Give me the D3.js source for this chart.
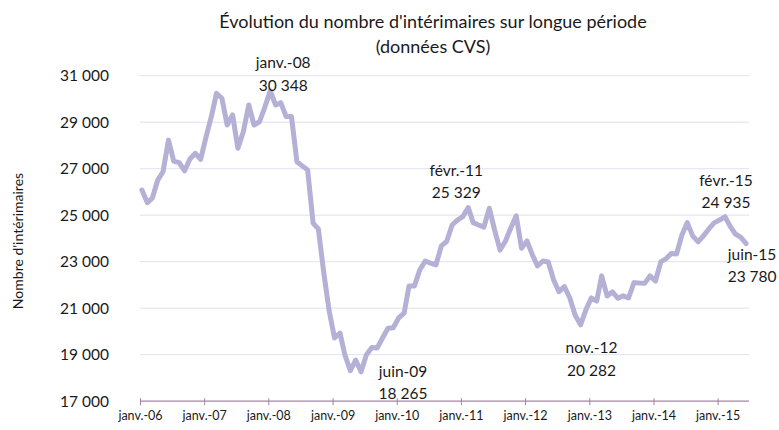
<!DOCTYPE html>
<html lang="fr">
<head>
<meta charset="UTF-8">
<title>Évolution du nombre d'intérimaires</title>
<script src="https://cdn.jsdelivr.net/npm/d3@7"></script>
<style>
  body { margin: 0; background: #fff; }
  svg text { font-family: Lato, "Open Sans", sans-serif; fill: #1a1a1a; }
</style>
</head>
<body>
<div id="chart"></div>
<script>
// monthly series, janv.-06 .. juin-15 (seasonally adjusted)
const startMonth = new Date(2006, 0, 12);
const values = [
  26080, 25540, 25730, 26510, 26870, 28230, 27330, 27260, 26910, 27420, 27660, 27400,
  28370, 29270, 30240, 30030, 28880, 29310, 27880, 28590, 29740, 28880, 29020, 29640,
  30348, 29740, 29840, 29240, 29240, 27300, 27120, 26940, 24660, 24410, 22510, 20900,
  19720, 19930, 18990, 18310, 18770, 18265, 18990, 19310, 19290, 19720, 20140, 20160,
  20580, 20790, 21960, 21960, 22640, 23030, 22940, 22860, 23680, 23870, 24580, 24790,
  24940, 25329, 24680, 24580, 24490, 25300, 24360, 23500, 23890, 24450, 24970, 23580,
  23890, 23290, 22820, 23030, 22990, 22210, 21710, 21930, 21440, 20710, 20282, 20920,
  21440, 21310, 22390, 21530, 21700, 21430, 21530, 21440, 22100, 22080, 22070, 22390,
  22170, 23000, 23120, 23350, 23330, 24150, 24680, 24110, 23850, 24110, 24410, 24670,
  24790, 24935, 24540, 24190, 24060, 23780
];
const yTicks = [17000, 19000, 21000, 23000, 25000, 27000, 29000, 31000];
const tickYears = [2006, 2007, 2008, 2009, 2010, 2011, 2012, 2013, 2014, 2015];
// highlighted points: month index in the series
const callouts = [24, 41, 61, 82, 109, 113];
const calloutOffsets = {
  24: [13, -23, 0],
  41: [42, 5, 27],
  61: [-12, -32, -10],
  82: [11, 28, 51],
  109: [1, -31, -9],
  113: [6, 16, 38]
};

const width = 779, height = 430;

const fr = d3.timeFormatLocale({
  dateTime: "%A %e %B %Y à %X", date: "%d/%m/%Y", time: "%H:%M:%S",
  periods: ["AM", "PM"],
  days: ["dimanche", "lundi", "mardi", "mercredi", "jeudi", "vendredi", "samedi"],
  shortDays: ["dim.", "lun.", "mar.", "mer.", "jeu.", "ven.", "sam."],
  months: ["janvier", "février", "mars", "avril", "mai", "juin", "juillet", "août", "septembre", "octobre", "novembre", "décembre"],
  shortMonths: ["janv.", "févr.", "mars", "avr.", "mai", "juin", "juil.", "août", "sept.", "oct.", "nov.", "déc."]
});
const fmtMonth = fr.format("%b-%y");
const fmtNum = d3.formatLocale({ decimal: ",", thousands: " ", grouping: [3], currency: ["", " €"] }).format(",d");

const data = values.map((v, i) => ({ date: d3.timeMonth.offset(startMonth, i), value: v }));

const x = d3.scaleTime()
  .domain([new Date(2006, 0, 1), new Date(2015, 5, 20)])
  .range([140, 747.5]);
const y = d3.scaleLinear()
  .domain([17000, 31000])
  .range([401.2, 75.7]);

const svg = d3.select("#chart").append("svg")
  .attr("width", width)
  .attr("height", height);

// gridlines
svg.append("g")
  .selectAll("line")
  .data(yTicks.slice(1))
  .join("line")
  .attr("x1", x.range()[0]).attr("x2", 749)
  .attr("y1", d => y(d)).attr("y2", d => y(d))
  .attr("stroke", "#e3e1ef")
  .attr("stroke-width", 1);

// y labels
svg.append("g")
  .selectAll("text")
  .data(yTicks)
  .join("text")
  .attr("x", 109)
  .attr("y", d => y(d))
  .attr("dy", "0.36em")
  .attr("text-anchor", "end")
  .style("font-size", "15.5px")
  .text(d => fmtNum(d));

// x axis
const xAxis = d3.axisBottom(x)
  .tickValues(tickYears.map(yr => new Date(yr, 0, 1)))
  .tickFormat(fmtMonth)
  .tickSizeInner(4)
  .tickSizeOuter(0)
  .tickPadding(6);

const gx = svg.append("g")
  .attr("transform", `translate(0,${y(17000)})`)
  .call(xAxis);
gx.select(".domain").attr("stroke", "#a484a4").attr("stroke-width", 1.3)
  .attr("d", `M${x.range()[0]},0H749`);
gx.selectAll(".tick line").attr("stroke", "#a484a4").attr("y1", -3).attr("y2", 4);
gx.selectAll(".tick text")
  .style("font-family", "Lato, sans-serif")
  .style("font-size", "12.5px")
  .attr("fill", "#1a1a1a");

// line
const line = d3.line()
  .x(d => x(d.date))
  .y(d => y(d.value));

svg.append("path")
  .datum(data)
  .attr("fill", "none")
  .attr("stroke", "#b4b0d6")
  .attr("stroke-width", 5)
  .attr("stroke-linejoin", "round")
  .attr("stroke-linecap", "round")
  .attr("d", line);

// callouts
const lab = svg.append("g").selectAll("g")
  .data(callouts.map(i => ({ i, d: data[i] })))
  .join("g")
  .attr("transform", c => `translate(${x(c.d.date) + calloutOffsets[c.i][0]},${y(c.d.value)})`);
lab.append("text")
  .attr("text-anchor", "middle")
  .attr("y", c => calloutOffsets[c.i][1])
  .style("font-size", "15.5px")
  .text(c => fmtMonth(c.d.date));
lab.append("text")
  .attr("text-anchor", "middle")
  .attr("y", c => calloutOffsets[c.i][2])
  .style("font-size", "15.5px")
  .text(c => fmtNum(c.d.value));

// title
const title = svg.append("text")
  .attr("text-anchor", "middle")
  .style("font-size", "18px");
title.append("tspan").attr("x", 433).attr("y", 28)
  .text("Évolution du nombre d'intérimaires sur longue période");
title.append("tspan").attr("x", 433).attr("y", 53)
  .text("(données CVS)");

// y axis title
svg.append("text")
  .attr("transform", "translate(23,241) rotate(-90)")
  .attr("text-anchor", "middle")
  .style("font-size", "14px")
  .text("Nombre d'intérimaires");
</script>
</body>
</html>
